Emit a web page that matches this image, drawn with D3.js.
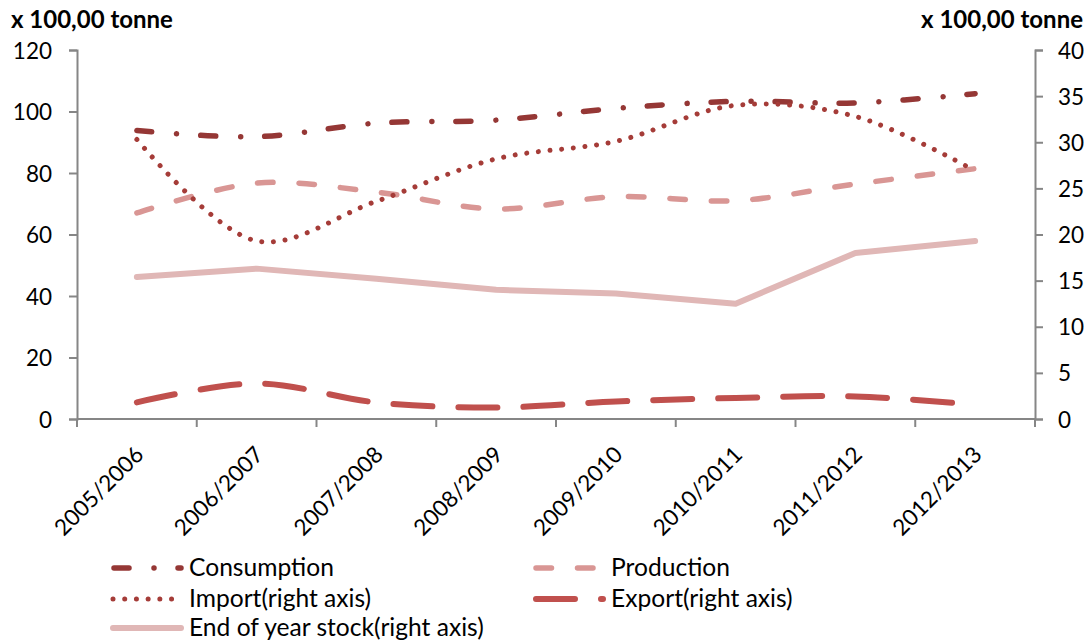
<!DOCTYPE html>
<html>
<head>
<meta charset="utf-8">
<script src="https://cdn.jsdelivr.net/npm/d3@7"></script>
<style>
  html, body { margin: 0; padding: 0; background: #fff; }
  svg { display: block; font-family: Lato, "Open Sans", sans-serif; }
</style>
</head>
<body>
<svg id="chart" width="1089" height="641"></svg>
<script>
// Seasons on the category axis
const categories = ["2005/2006", "2006/2007", "2007/2008", "2008/2009",
                    "2009/2010", "2010/2011", "2011/2012", "2012/2013"];

// Left axis series (x 100,00 tonne)
const consumption = [93.8, 91.8, 96.2, 97.2, 101.0, 103.3, 102.8, 105.8];
const production  = [67.0, 76.7, 73.8, 68.3, 72.3, 71.0, 76.4, 81.4];

// Right axis series (x 100,00 tonne)
const importRight = [30.3, 19.3, 23.6, 28.2, 30.1, 34.0, 32.8, 26.9];
const exportRight = [1.8, 3.85, 1.8, 1.25, 1.9, 2.28, 2.45, 1.55];
const stockRight  = [15.4, 16.3, 15.2, 14.0, 13.6, 12.5, 18.0, 19.3];

// Tick values
const leftTicks  = [0, 20, 40, 60, 80, 100, 120];
const rightTicks = [0, 5, 10, 15, 20, 25, 30, 35, 40];

const unitLabel = "x 100,00 tonne";

const svg = d3.select("#chart");
const plot = { left: 77, right: 1035, top: 50, bottom: 419 };
const axisColor = "#868686";
const fontSize = 22.5;
const legendFontSize = 24.6;

const x = d3.scaleBand().domain(categories).range([plot.left, plot.right]).padding(0);
const cx = c => x(c) + x.bandwidth() / 2;
const yL = d3.scaleLinear().domain([0, 120]).range([plot.bottom, plot.top]);
const yR = d3.scaleLinear().domain([0, 40]).range([plot.bottom, plot.top]);

// Series definitions: styles of each line
const series = [
  { name: "Consumption", values: consumption, y: yL, color: "#953735", width: 5.5,
    dash: "15,25,0.01,24", curve: d3.curveCatmullRom.alpha(0.5) },
  { name: "Production", values: production, y: yL, color: "#D99694", width: 5.5,
    dash: "15.5,26", curve: d3.curveCatmullRom.alpha(0.5) },
  { name: "Import(right axis)", values: importRight, y: yR, color: "#A53C38", width: 5,
    dash: "0.01,11.7", curve: d3.curveCatmullRom.alpha(0.5) },
  { name: "Export(right axis)", values: exportRight, y: yR, color: "#C0504D", width: 6,
    dash: "39,26", curve: d3.curveCatmullRom.alpha(0.5) },
  { name: "End of year stock(right axis)", values: stockRight, y: yR, color: "#E0B7B6", width: 6,
    dash: null, curve: d3.curveLinear }
];

// Axes
const leftAxis = d3.axisLeft(yL).tickValues(leftTicks).tickSize(8).tickPadding(17);
const rightAxis = d3.axisRight(yR).tickValues(rightTicks).tickSize(8).tickPadding(15);
const bottomAxis = d3.axisBottom(x).tickSize(8).tickFormat("");

function styleAxis(g) {
  g.select(".domain").attr("stroke", axisColor).attr("stroke-width", 2);
  g.selectAll(".tick line").attr("stroke", axisColor).attr("stroke-width", 2);
  g.selectAll(".tick text").attr("fill", "#000").style("font-size", fontSize + "px")
    .style("font-family", "Lato, sans-serif");
}

const gx = svg.append("g").attr("transform", `translate(0,${plot.bottom})`).call(bottomAxis);
// ticks at every band boundary (including the right end)
gx.selectAll(".tick").remove();
gx.select(".domain").attr("d", `M${plot.left},0H${plot.right}`);
gx.selectAll("line.bound")
  .data(categories.map(c => x(c)).concat([plot.right]))
  .join("line").attr("class", "bound")
  .attr("x1", d => d).attr("x2", d => d).attr("y1", 0).attr("y2", 8);
gx.selectAll("line.bound").attr("stroke", axisColor).attr("stroke-width", 2);
styleAxis(gx);

// rotated category labels
svg.append("g").selectAll("text")
  .data(categories).join("text")
  .attr("transform", d => `translate(${cx(d) + 8},${plot.bottom + 37}) rotate(-45)`)
  .attr("text-anchor", "end")
  .style("font-size", fontSize + "px")
  .attr("fill", "#000")
  .text(d => d);

const gl = svg.append("g").attr("transform", `translate(${plot.left},0)`).call(leftAxis);
styleAxis(gl);
const gr = svg.append("g").attr("transform", `translate(${plot.right},0)`).call(rightAxis);
styleAxis(gr);
gl.selectAll(".tick text").attr("dy", "0.36em");
gr.selectAll(".tick text").attr("dy", "0.36em");

// Unit titles above both axes
svg.append("text").attr("x", 11).attr("y", 28)
  .style("font-size", "24px").style("font-weight", "bold").text(unitLabel);
svg.append("text").attr("x", 1083).attr("y", 28).attr("text-anchor", "end")
  .style("font-size", "24px").style("font-weight", "bold").text(unitLabel);

// Lines
const linesG = svg.append("g");
series.forEach(s => {
  const line = d3.line()
    .x((d, i) => cx(categories[i]))
    .y(d => s.y(d))
    .curve(s.curve);
  linesG.append("path")
    .datum(s.values)
    .attr("d", line)
    .attr("fill", "none")
    .attr("stroke", s.color)
    .attr("stroke-width", s.width)
    .attr("stroke-linecap", "round")
    .attr("stroke-linejoin", "round")
    .attr("stroke-dasharray", s.dash);
});

// Legend
const legendItems = [
  { s: series[0], x1: 114, x2: 181, tx: 189, y: 568 },
  { s: series[1], x1: 536, x2: 596, tx: 611, y: 568 },
  { s: series[2], x1: 113, x2: 173, tx: 189, y: 599 },
  { s: series[3], x1: 536, x2: 603, tx: 611, y: 599 },
  { s: series[4], x1: 113, x2: 181, tx: 189, y: 628 }
];
const lg = svg.append("g");
legendItems.forEach(it => {
  lg.append("line")
    .attr("x1", it.x1).attr("x2", it.x2).attr("y1", it.y).attr("y2", it.y)
    .attr("stroke", it.s.color).attr("stroke-width", it.s.width)
    .attr("stroke-linecap", "round")
    .attr("stroke-dasharray", it.s.dash);
  lg.append("text")
    .attr("x", it.tx).attr("y", it.y + 7.5)
    .style("font-size", legendFontSize + "px")
    .attr("fill", "#000")
    .text(it.s.name);
});
</script>
</body>
</html>
